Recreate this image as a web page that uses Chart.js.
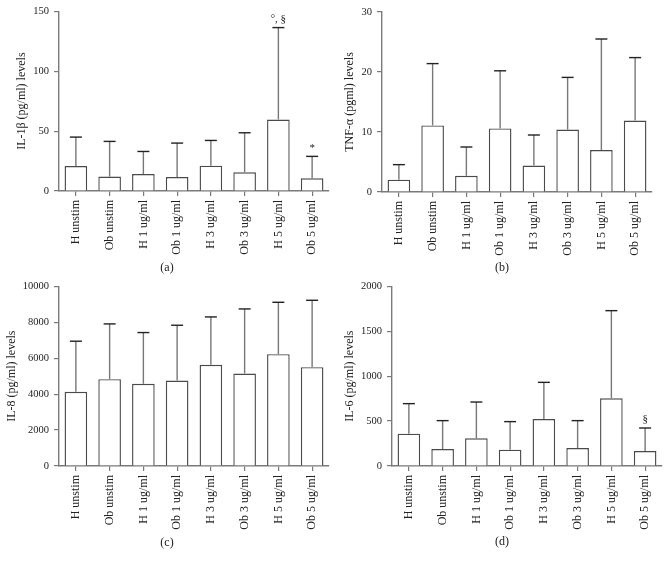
<!DOCTYPE html>
<html>
<head>
<meta charset="utf-8">
<script src="https://cdn.jsdelivr.net/npm/chart.js@4/dist/chart.umd.min.js"></script>
<style>
  html, body { margin: 0; padding: 0; background: #fff; }
  body { width: 669px; height: 563px; position: relative; overflow: hidden; font-family: "Liberation Serif", "DejaVu Serif", serif; }
  .panel { position: absolute; }
  .cap { position: absolute; font-size: 12px; color: #222; transform: translate(-50%, -50%); white-space: nowrap; }
</style>
</head>
<body>
<div class="panel" style="left:0px;top:0px;width:335px;height:262px"><canvas id="cA" width="335" height="262"></canvas></div>
<div class="panel" style="left:335px;top:0px;width:334px;height:262px"><canvas id="cB" width="334" height="262"></canvas></div>
<div class="panel" style="left:0px;top:275px;width:335px;height:262px"><canvas id="cC" width="335" height="262"></canvas></div>
<div class="panel" style="left:335px;top:275px;width:334px;height:262px"><canvas id="cD" width="334" height="262"></canvas></div>
<div class="cap" style="left:167px;top:267px">(a)</div>
<div class="cap" style="left:502px;top:267px">(b)</div>
<div class="cap" style="left:167px;top:542px">(c)</div>
<div class="cap" style="left:502px;top:541px">(d)</div>
<script>
// ---- data ----
const categories = ['H unstim', 'Ob unstim', 'H 1 ug/ml', 'Ob 1 ug/ml', 'H 3 ug/ml', 'Ob 3 ug/ml', 'H 5 ug/ml', 'Ob 5 ug/ml'];

const il1bMean    = [20.8, 12.0, 14.2, 11.7, 21.1, 15.6, 59.7, 10.6];
const il1bErrTop  = [45.0, 41.4, 33.0, 40.0, 42.2, 48.6, 136.4, 28.9];
const il1bMarks   = ['', '', '', '', '', '', '°, §', '*'];

const tnfMean     = [2.06, 11.1, 2.7, 10.6, 4.4, 10.4, 7.0, 11.9];
const tnfErrTop   = [4.56, 21.4, 7.5, 20.2, 9.5, 19.1, 25.5, 22.4];
const tnfMarks    = ['', '', '', '', '', '', '', ''];

const il8Mean     = [4130, 4833, 4574, 4759, 5630, 5148, 6222, 5500];
const il8ErrTop   = [6944, 7907, 7426, 7833, 8296, 8741, 9111, 9222];
const il8Marks    = ['', '', '', '', '', '', '', ''];

const il6Mean     = [360, 189, 308, 182, 523, 200, 753, 167];
const il6ErrTop   = [694, 505, 712, 494, 931, 505, 1729, 423];
const il6Marks    = ['', '', '', '', '', '', '', '§'];

// ---- styling ----
const FONT = '"Liberation Serif", "DejaVu Serif", serif';
const AXIS_COLOR = '#7a7a7a';
const TEXT_COLOR = '#222';

const errorBarPlugin = {
  id: 'errorBars',
  afterDatasetsDraw(chart, args, opts) {
    const ctx = chart.ctx;
    const meta = chart.getDatasetMeta(0);
    const ys = chart.scales.y;
    ctx.save();
    meta.data.forEach((bar, i) => {
      const x = bar.x;
      const yTop = ys.getPixelForValue(opts.tops[i]);
      const yBar = ys.getPixelForValue(opts.means[i]);
      ctx.strokeStyle = '#777';
      ctx.lineWidth = 1.4;
      ctx.beginPath();
      ctx.moveTo(x, yBar);
      ctx.lineTo(x, yTop);
      ctx.stroke();
      ctx.strokeStyle = '#222';
      ctx.lineWidth = 1.4;
      ctx.beginPath();
      ctx.moveTo(x - 6, yTop);
      ctx.lineTo(x + 6, yTop);
      ctx.stroke();
      const m = opts.marks[i];
      if (m) {
        ctx.fillStyle = TEXT_COLOR;
        ctx.font = '11px ' + FONT;
        ctx.textAlign = 'center';
        ctx.textBaseline = 'bottom';
        ctx.fillText(m, x, yTop - 3);
      }
    });
    ctx.restore();
  }
};

function makeChart(id, cfg) {
  return new Chart(document.getElementById(id), {
    type: 'bar',
    data: {
      labels: categories,
      datasets: [{
        data: cfg.means,
        backgroundColor: '#ffffff',
        borderColor: '#4a4a4a',
        borderWidth: 1.4,
        borderSkipped: 'bottom',
        categoryPercentage: 1.0,
        barPercentage: 0.67
      }]
    },
    options: {
      responsive: false,
      animation: false,
      events: [],
      layout: { padding: { top: cfg.padTop, right: cfg.padRight, left: 0, bottom: 0 } },
      plugins: {
        legend: { display: false },
        tooltip: { enabled: false },
        errorBars: { means: cfg.means, tops: cfg.tops, marks: cfg.marks }
      },
      scales: {
        x: {
          offset: true,
          grid: { display: true, drawOnChartArea: false, offset: false, tickLength: 5, color: AXIS_COLOR, lineWidth: 1.2 },
          border: { display: true, color: AXIS_COLOR, width: 1.4 },
          ticks: {
            minRotation: 90, maxRotation: 90, autoSkip: false, padding: 4,
            color: TEXT_COLOR, font: { family: FONT, size: 12 }
          },
          afterFit(scale) { scale.height = cfg.xHeight; }
        },
        y: {
          min: 0, max: cfg.max,
          ticks: {
            stepSize: cfg.step, padding: 5, color: TEXT_COLOR, font: { family: FONT, size: 10.5 },
            callback: (v) => String(v)
          },
          grid: { display: true, drawOnChartArea: false, tickLength: 5, color: AXIS_COLOR, lineWidth: 1.2 },
          border: { display: true, color: AXIS_COLOR, width: 1.4 },
          title: {
            display: true, text: cfg.title, color: TEXT_COLOR,
            font: { family: FONT, size: 12 }, padding: { top: cfg.titlePad, bottom: 0 }
          },
          afterFit(scale) { scale.width = cfg.yWidth; }
        }
      }
    },
    plugins: [errorBarPlugin]
  });
}

makeChart('cA', { means: il1bMean, tops: il1bErrTop, marks: il1bMarks, max: 150, step: 50,
  title: 'IL-1β (pg/ml) levels', padTop: 11, padRight: 6, yWidth: 59, xHeight: 71, titlePad: 15 });
makeChart('cB', { means: tnfMean, tops: tnfErrTop, marks: tnfMarks, max: 30, step: 10,
  title: 'TNF-α (pgml) levels', padTop: 12, padRight: 17, yWidth: 47, xHeight: 70, titlePad: 8 });
makeChart('cC', { means: il8Mean, tops: il8ErrTop, marks: il8Marks, max: 10000, step: 2000,
  title: 'IL-8 (pg/ml) levels', padTop: 11, padRight: 6, yWidth: 59, xHeight: 71, titlePad: 5 });
makeChart('cD', { means: il6Mean, tops: il6ErrTop, marks: il6Marks, max: 2000, step: 500,
  title: 'IL-6 (pg/ml) levels', padTop: 11, padRight: 7, yWidth: 57, xHeight: 71, titlePad: 8 });
</script>
</body>
</html>
